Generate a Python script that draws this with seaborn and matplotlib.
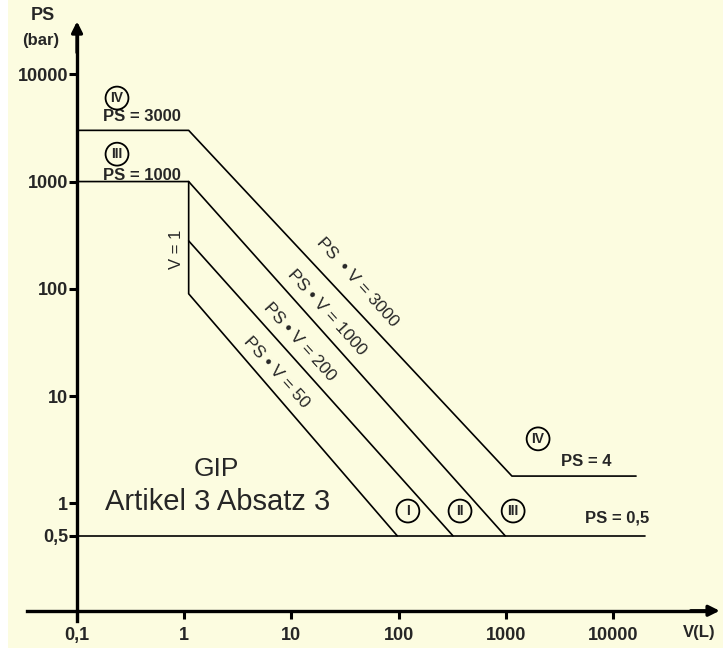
import numpy as np
import matplotlib
matplotlib.use("Agg")
import matplotlib.pyplot as plt
import pandas as pd
import seaborn as sns

# boundary lines of the chart (V in L, PS in bar)
cat_iv_v = [0.1, 1.1, 1140, 16400]
cat_iv_ps = [3000, 3000, 1.8, 1.8]
cat_iii_v = [0.1, 1.1, 985]
cat_iii_ps = [1000, 1000, 0.5]
cat_ii_v = [1.1, 321]
cat_ii_ps = [280, 0.5]
cat_i_v = [1.1, 1.1, 97]
cat_i_ps = [1000, 90, 0.5]
base_v = [0.1, 20000]
base_ps = [0.5, 0.5]

x_ticks = [0.1, 1, 10, 100, 1000, 10000]
x_labels = ["0,1", "1", "10", "100", "1000", "10000"]
y_ticks = [0.5, 1, 10, 100, 1000, 10000]
y_labels = ["0,5", "1", "10", "100", "1000", "10000"]

segments = {"IV": (cat_iv_v, cat_iv_ps), "III": (cat_iii_v, cat_iii_ps),
            "II": (cat_ii_v, cat_ii_ps), "I": (cat_i_v, cat_i_ps),
            "base": (base_v, base_ps)}
rows = []
for name, (vs, pss) in segments.items():
    for k, (v, p) in enumerate(zip(vs, pss)):
        rows.append({"seg": name, "order": k, "V": v, "PS": p})
df = pd.DataFrame(rows)

sns.set_theme(style="white")
plt.rcParams["font.family"] = ["Liberation Sans", "DejaVu Sans"]

bg = "#fcfce0"
fig = plt.figure(figsize=(7.23, 6.5), dpi=100, facecolor="white")
ax = fig.add_axes([8 / 723, 2 / 650, 715 / 723, 648 / 650])
ax.set_facecolor(bg)
ax.set_xscale("log")
ax.set_yscale("log")
ax.set_xlim(10 ** -1.644, 10 ** 5.026)
ax.set_ylim(10 ** -1.347, 10 ** 4.692)

sns.lineplot(data=df, x="V", y="PS", units="seg", estimator=None, sort=False,
             color="black", lw=1.2, ax=ax)
ax.set_xlabel("")
ax.set_ylabel("")

# axes drawn as arrows through (0.1, 0.1)
for s in ["top", "right"]:
    ax.spines[s].set_visible(False)
ax.spines["left"].set_position(("data", 0.1))
ax.spines["bottom"].set_position(("data", 0.1))
ax.spines["left"].set_bounds(0.08, 25000)
ax.spines["bottom"].set_bounds(0.034, 80000)
for s in ["left", "bottom"]:
    ax.spines[s].set_linewidth(2.4)
    ax.spines[s].set_color("black")
ax.annotate("", xy=(1.05e5, 0.1), xytext=(5e4, 0.1),
            arrowprops=dict(arrowstyle="-|>", lw=2.4, color="black", mutation_scale=16))
ax.annotate("", xy=(0.1, 3.3e4), xytext=(0.1, 1.5e4),
            arrowprops=dict(arrowstyle="-|>", lw=2.4, color="black", mutation_scale=16))

ax.set_xticks(x_ticks)
ax.set_xticklabels(x_labels, fontweight="bold")
ax.set_yticks(y_ticks)
ax.set_yticklabels(y_labels, fontweight="bold")
ax.minorticks_off()
ax.tick_params(axis="x", direction="out", length=6, width=2.2, labelsize=13, pad=6,
               bottom=True, color="black")
ax.tick_params(axis="y", direction="out", length=6, width=2.2, labelsize=13, pad=0.5,
               left=True, color="black")

# axis titles
ax.text(0.048, 35600, "PS", ha="center", va="center", fontsize=13, fontweight="bold")
ax.text(0.046, 20800, "(bar)", ha="center", va="center", fontsize=12, fontweight="bold")
ax.text(64000, 0.063, "V(L)", ha="center", va="center", fontsize=12, fontweight="bold")

# limit labels
lbl = dict(ha="center", va="center", fontsize=12, fontweight="bold")
ax.text(0.40, 4000, "PS = 3000", **lbl)
ax.text(0.40, 1130, "PS = 1000", **lbl)
ax.text(5600, 2.44, "PS = 4", **lbl)
ax.text(10900, 0.73, "PS = 0,5", **lbl)
ax.text(0.84, 235, "V = 1", rotation=90, ha="center", va="center", fontsize=12)

diag = dict(ha="center", va="center", fontsize=12.5, rotation=-48, rotation_mode="anchor")
ax.text(41, 116, "PS  • V = 3000", **diag)
ax.text(21.5, 60, "PS • V = 1000", **diag)
ax.text(12, 32, "PS • V = 200", **diag)
ax.text(7.2, 16.8, "PS • V = 50", **diag)

ax.text(2.0, 2.1, "GIP", ha="center", va="center", fontsize=19)
ax.text(2.05, 1.03, "Artikel 3 Absatz 3", ha="center", va="center", fontsize=21)

# category circles
circ = dict(ha="center", va="center", fontsize=10, fontweight="bold",
            bbox=dict(boxstyle="circle,pad=0.32", fc="none", ec="black", lw=1.3))
ax.text(0.236, 6000, "IV", **circ)
ax.text(0.236, 1800, "III", **circ)
ax.text(2000, 4.0, "IV", **circ)
ax.text(122, 0.85, "I", **circ)
ax.text(374, 0.85, "II", **circ)
ax.text(1170, 0.85, "III", **circ)

fig.savefig("out.png", dpi=100, facecolor="white")
